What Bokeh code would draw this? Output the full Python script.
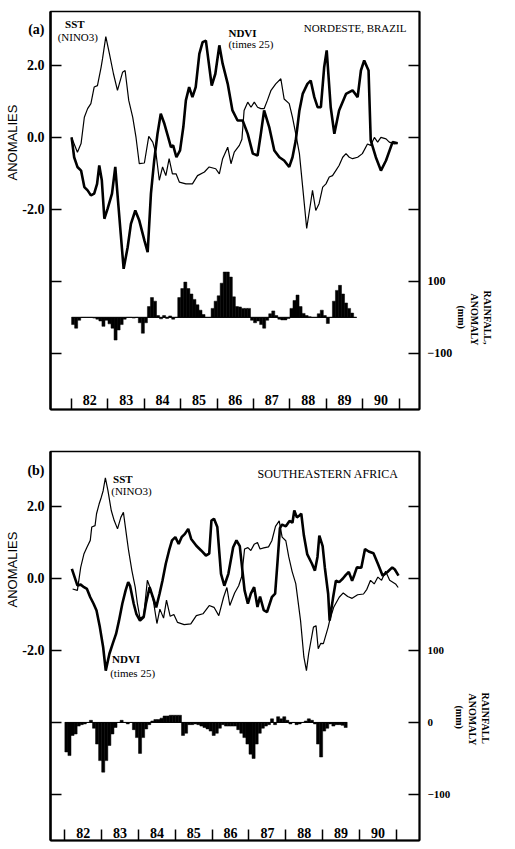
import numpy as np
from bokeh.plotting import figure
from bokeh.models import (Range1d, LinearAxis, FixedTicker, Label, LabelSet, ColumnDataSource,
                          PrintfTickFormatter, Title)
from bokeh.layouts import column
from bokeh.embed import file_html
from bokeh.resources import INLINE

# ---------------- data ----------------
year_ticks = [82, 83, 84, 85, 86, 87, 88, 89, 90, 91]
year_labels = ["82", "83", "84", "85", "86", "87", "88", "89", "90"]

# Panel (a) Nordeste, Brazil
a_sst_t = [82.00, 82.16, 82.26, 82.35, 82.44, 82.53, 82.62, 82.71, 82.81, 82.85, 82.94, 83.04, 83.15,
           83.26, 83.40, 83.47, 83.57, 83.68, 83.77, 83.86, 84.00, 84.12, 84.23, 84.32, 84.41, 84.50,
           84.59, 84.68, 84.77, 84.87, 84.96, 85.14, 85.32, 85.46, 85.65, 85.78, 85.96, 86.06, 86.15,
           86.29, 86.38, 86.47, 86.61, 86.68, 86.74, 86.84, 86.93, 87.02, 87.11, 87.20, 87.29, 87.38,
           87.48, 87.61, 87.75, 87.84, 87.98, 88.07, 88.16, 88.26, 88.35, 88.46, 88.55, 88.62, 88.71,
           88.80, 88.90, 88.99, 89.08, 89.17, 89.26, 89.35, 89.45, 89.54, 89.63, 89.72, 89.86, 89.99,
           90.13, 90.22, 90.32, 90.41, 90.50, 90.64, 90.73, 90.87, 90.96]
a_sst_v = [0.00, -0.41, -0.17, 0.56, 0.80, 0.94, 1.40, 1.44, 1.95, 2.19, 2.80, 2.32, 1.77,
           1.31, 1.81, 1.86, 1.03, 0.56, 0.00, -0.73, -0.71, 0.03, -0.13, -0.45, -1.19, -0.82,
           -1.06, -0.59, -1.01, -1.01, -1.24, -1.29, -1.29, -1.06, -0.96, -0.82, -0.87, -1.01, -0.59,
           -0.27, -0.73, -0.41, -0.22, -0.05, 0.75, 0.98, 0.84, 0.98, 0.84, 0.80, 0.80, 1.03,
           1.31, 1.49, 1.63, 1.07, 0.94, 0.56, 0.10, -0.45, -1.38, -2.53, -1.94, -1.47, -2.03,
           -1.84, -1.38, -1.29, -1.10, -1.06, -0.92, -0.78, -0.55, -0.45, -0.55, -0.59, -0.55, -0.45,
           -0.18, -0.22, 0.00, -0.13, 0.00, -0.04, -0.13, -0.18, -0.16]
a_ndvi_t = [82.00, 82.07, 82.16, 82.26, 82.35, 82.44, 82.53, 82.62, 82.70, 82.76, 82.83, 82.90, 82.99,
            83.11, 83.20, 83.29, 83.35, 83.43, 83.54, 83.63, 83.75, 83.86, 84.00, 84.09, 84.18, 84.27,
            84.36, 84.45, 84.55, 84.64, 84.73, 84.79, 84.88, 84.98, 85.07, 85.14, 85.23, 85.32, 85.41,
            85.51, 85.60, 85.69, 85.76, 85.85, 85.95, 86.06, 86.15, 86.29, 86.42, 86.56, 86.70, 86.84,
            86.98, 87.11, 87.20, 87.29, 87.43, 87.57, 87.71, 87.84, 87.98, 88.07, 88.16, 88.26, 88.35,
            88.48, 88.57, 88.67, 88.76, 88.85, 88.94, 89.01, 89.12, 89.22, 89.35, 89.54, 89.72, 89.86,
            89.95, 90.04, 90.16, 90.22, 90.36, 90.50, 90.64, 90.82, 90.96]
a_ndvi_v = [0.00, -0.55, -0.82, -0.92, -1.38, -1.47, -1.61, -1.56, -1.29, -0.78, -1.19, -2.26, -1.98,
            -1.56, -0.82, -1.94, -2.68, -3.65, -3.05, -2.40, -2.03, -2.31, -2.86, -3.19, -1.56, -0.64,
            0.10, 0.66, 0.38, 0.06, -0.27, -0.22, -0.55, -0.36, 0.29, 1.03, 1.40, 1.12, 1.40,
            2.32, 2.65, 2.69, 2.14, 1.44, 1.77, 2.56, 2.05, 1.49, 0.75, 0.47, 0.47, 0.10,
            -0.45, -0.50, 0.10, 0.75, 0.29, -0.36, -0.55, -0.64, -0.82, -0.55, -0.08, 0.75, 1.21,
            1.49, 1.58, 1.12, 0.84, 0.84, 1.95, 2.42, 0.84, 0.10, 0.75, 1.21, 1.31, 1.12,
            1.86, 2.14, 1.86, -0.08, -0.55, -0.92, -0.64, -0.13, -0.16]
# monthly rainfall anomaly (mm), Jan 1982 onward
a_rain = [-20, -30, -8, 0, 0, 0, 0, -2, -5, -10, -25, -8,
          -18, -30, -63, -35, -20, -5, 0, 0, -2, 0, -15, -44,
          -15, 30, 55, 45, 5, -4, 5, -3, 4, -5, 0, 55,
          80, 98, 80, 65, 50, 35, 20, 8, 0, 0, 25, 45,
          60, 95, 126, 126, 112, 57, 30, 29, 25, 25, 25, -8,
          -15, -10, -20, -30, -8, 10, 18, 5, -5, -7, -7, -3,
          25, 47, 62, 30, 11, 5, 2, 0, 0, 10, 20, 5,
          -17, 0, 45, 75, 89, 65, 40, 25, 12, 0]

# Panel (b) Southeastern Africa
b_sst_t = [82.21, 82.34, 82.43, 82.52, 82.60, 82.69, 82.73, 82.82, 82.86, 82.93, 82.99, 83.04, 83.10,
           83.17, 83.26, 83.34, 83.43, 83.52, 83.59, 83.68, 83.73, 83.82, 83.91, 83.97, 84.04, 84.14,
           84.24, 84.33, 84.40, 84.50, 84.58, 84.68, 84.76, 84.86, 84.96, 85.06, 85.24, 85.42, 85.57,
           85.75, 85.92, 86.05, 86.18, 86.31, 86.40, 86.48, 86.61, 86.72, 86.80, 86.88, 86.97, 87.05,
           87.14, 87.23, 87.30, 87.40, 87.53, 87.62, 87.72, 87.82, 87.90, 88.00, 88.08, 88.17, 88.27,
           88.40, 88.49, 88.56, 88.62, 88.75, 88.82, 88.88, 88.95, 89.02, 89.15, 89.19, 89.30, 89.45,
           89.56, 89.68, 89.80, 89.95, 90.11, 90.20, 90.30, 90.40, 90.50, 90.60, 90.71, 90.82, 90.98,
           91.05]
b_sst_v = [-0.29, -0.33, 0.31, 0.69, 0.87, 1.06, 1.43, 1.47, 1.80, 2.07, 2.26, 2.44, 2.80,
           2.44, 1.89, 1.61, 1.38, 1.70, 1.84, 1.15, 0.78, 0.22, -0.24, -0.70, -1.10, -1.05,
           -0.05, -0.30, -0.60, -1.25, -0.85, -1.10, -0.60, -1.05, -1.00, -1.22, -1.28, -1.26, -1.03,
           -0.98, -0.75, -0.80, -1.03, -0.52, -0.25, -0.75, -0.40, -0.20, 0.05, 0.82, 0.86, 0.78,
           0.95, 1.00, 0.82, 0.85, 0.88, 1.05, 1.45, 1.60, 1.15, 1.05, 0.60, 0.20, -0.14,
           -1.17, -2.18, -2.56, -2.09, -1.35, -1.31, -1.95, -1.80, -1.81, -1.35, -1.17, -0.80, -0.52,
           -0.40, -0.50, -0.55, -0.45, -0.43, -0.30, -0.05, -0.15, 0.04, -0.05, 0.20, -0.05, -0.15,
           -0.25]
b_ndvi_t = [82.19, 82.34, 82.43, 82.52, 82.60, 82.69, 82.78, 82.86, 82.95, 83.04, 83.11, 83.21, 83.30,
            83.39, 83.47, 83.56, 83.65, 83.72, 83.77, 83.87, 83.94, 84.04, 84.14, 84.20, 84.30, 84.39,
            84.48, 84.57, 84.65, 84.74, 84.83, 84.91, 85.00, 85.09, 85.17, 85.26, 85.35, 85.43, 85.57,
            85.70, 85.83, 85.92, 85.98, 86.05, 86.14, 86.24, 86.33, 86.44, 86.57, 86.66, 86.75, 86.88,
            86.97, 87.05, 87.14, 87.23, 87.30, 87.40, 87.49, 87.62, 87.71, 87.77, 87.84, 87.90, 88.00,
            88.10, 88.18, 88.23, 88.30, 88.37, 88.42, 88.49, 88.58, 88.71, 88.79, 88.86, 88.91, 89.00,
            89.06, 89.15, 89.19, 89.28, 89.36, 89.45, 89.55, 89.63, 89.71, 89.80, 89.86, 89.93, 90.05,
            90.15, 90.25, 90.38, 90.50, 90.63, 90.76, 90.89, 90.96, 91.06]
b_ndvi_v = [0.27, -0.19, -0.17, -0.24, -0.29, -0.52, -0.70, -0.89, -1.35, -1.91, -2.56, -2.09, -1.81,
            -1.54, -1.17, -0.70, -0.33, -0.10, -0.20, -0.70, -0.98, -1.17, -1.07, -0.70, -0.24, -0.52,
            -0.80, -0.43, -0.06, 0.41, 0.78, 1.06, 1.15, 0.96, 1.15, 1.24, 1.38, 1.10, 0.91,
            0.78, 0.64, 0.69, 1.61, 1.66, 1.43, 0.13, -0.20, 0.13, 0.87, 1.06, 0.90, -0.33,
            -0.70, -0.42, -0.24, -0.79, -0.50, -0.88, -0.93, -0.52, -0.42, 0.40, 1.40, 1.50, 1.45,
            1.60, 1.55, 1.89, 1.70, 1.75, 1.80, 1.20, 0.68, 0.41, 0.22, 0.60, 1.19, 0.90,
            0.30, -0.43, -1.17, -0.55, -0.06, -0.10, 0.00, 0.10, 0.18, -0.06, 0.10, 0.31, 0.30,
            0.82, 0.75, 0.70, 0.41, 0.08, 0.18, 0.31, 0.25, 0.08]
b_rain = [-41, -46, -18, -16, -5, -3, -2, 0, 3, -8, -30, -53,
          -69, -53, -32, -16, -7, 0, 3, 0, -2, 0, -10, -21,
          -43, -21, -9, -3, 2, 4, 4, 6, 9, 9, 10, 10,
          10, 10, -18, -15, -3, -3, -2, -3, -5, -7, -9, -12,
          -18, -15, -8, -3, -5, -5, -5, -5, -10, -15, -21, -30,
          -44, -50, -30, -15, -8, -5, -3, 5, -3, 8, 5, 8,
          3, -2, 0, -3, -2, 0, 2, 5, 3, -2, -30, -48,
          -12, -8, -2, -5, -3, -3, -4, -7]
rain_start = 82.0

SERIF = "Liberation Serif"
SANS = "Liberation Sans"


def style_axis(ax, lw, standoff=6, size="13px"):
    ax.axis_line_color = "black"
    ax.axis_line_width = lw
    ax.major_tick_in = 11
    ax.major_tick_out = 0
    ax.minor_tick_in = 11
    ax.minor_tick_out = 0
    ax.major_tick_line_color = "black"
    ax.minor_tick_line_color = "black"
    ax.major_tick_line_width = 1.5
    ax.minor_tick_line_width = 1.5
    ax.major_label_text_font = SERIF
    ax.major_label_text_font_style = "bold"
    ax.major_label_text_font_size = size
    ax.major_label_text_color = "black"
    ax.major_label_standoff = standoff


def side_title(p, text, side, offset, size="10px", font=SERIF, style="bold"):
    p.add_layout(Title(text=text, align="left", offset=offset, standoff=0,
                       text_font=font, text_font_size=size, text_font_style=style,
                       text_color="black"), side)


def make_panel(width, height, borders, xr, yr, rain_zero, rain_per_unit,
               sst_t, sst_v, ndvi_t, ndvi_v, rain, right_major, right_minor, year_y,
               panel_tag, right_size):
    left, right, top, bottom = borders
    p = figure(width=width, height=height, x_range=Range1d(*xr), y_range=Range1d(*yr),
               output_backend="svg", toolbar_location=None,
               min_border_left=left, min_border_right=right,
               min_border_top=top, min_border_bottom=bottom)
    p.extra_y_ranges = {"rain": Range1d((yr[0] - rain_zero) * rain_per_unit,
                                        (yr[1] - rain_zero) * rain_per_unit)}
    p.xgrid.visible = False
    p.ygrid.visible = False
    p.outline_line_color = "black"
    p.outline_line_width = 1.5
    p.background_fill_color = "white"
    p.border_fill_color = "white"

    # bottom axis: year boundaries as unlabeled inward ticks
    p.xaxis.ticker = FixedTicker(ticks=[], minor_ticks=year_ticks)
    style_axis(p.xaxis[0], 2, 0)

    # left axis: visible ticks are minor ticks; major ticks carry the labels
    # (the panel letter sits at the top of the left margin as one more label)
    p.yaxis.ticker = FixedTicker(ticks=[3, 2, 0, -2], minor_ticks=[2, 0, -2, -4, -6])
    p.yaxis.formatter = PrintfTickFormatter(format="%.1f")
    p.yaxis.major_label_overrides = {3: panel_tag}
    style_axis(p.yaxis[0], 2.5, 6, "14px")
    p.yaxis.major_tick_line_color = None

    rax = LinearAxis(y_range_name="rain",
                     ticker=FixedTicker(ticks=right_major, minor_ticks=right_minor))
    style_axis(rax, 2, 8, right_size)
    p.add_layout(rax, "right")

    # rainfall bars
    mx = rain_start + (np.arange(len(rain)) + 0.5) / 12.0
    src = ColumnDataSource(dict(x=mx, top=np.array(rain, dtype=float)))
    p.vbar(x="x", top="top", bottom=0, width=1 / 12.0, source=src, y_range_name="rain",
           fill_color="black", line_color="black", line_width=0.5)
    p.line(x=[mx[0] - 1 / 24.0, mx[-1] + 1 / 24.0], y=[0, 0], y_range_name="rain",
           line_color="black", line_width=1)

    # curves
    p.line(sst_t, sst_v, line_color="black", line_width=1.2)
    p.line(ndvi_t, ndvi_v, line_color="black", line_width=2.6)

    # year labels inside the frame
    ysrc = ColumnDataSource(dict(x=[int(s) + 0.5 for s in year_labels], text=year_labels))
    p.add_layout(LabelSet(x="x", y=year_y, text="text", source=ysrc, text_align="center",
                          text_baseline="middle", text_font=SERIF, text_font_style="bold",
                          text_font_size="14px", text_color="black"))
    return p


def lab(p, x, y, text, size="11px", style="normal", align="left"):
    p.add_layout(Label(x=x, y=y, text=text, text_font=SERIF, text_font_size=size,
                       text_font_style=style, text_align=align, text_baseline="top",
                       text_color="black"))


# ---------------- panel (a) ----------------
pa = make_panel(499, 418, (50, 80, 11, 9), (81.42, 91.56), (-7.56, 3.5), -5.0, 100.0,
                a_sst_t, a_sst_v, a_ndvi_t, a_ndvi_v, a_rain,
                [100, -100], [700, 500, 300], -7.3, "(a)", "12px")
lab(pa, 82.09, 3.33, "SST", style="bold", align="center")
lab(pa, 82.17, 2.96, "(NINO3)", align="center")
lab(pa, 86.31, 3.08, "NDVI", style="bold")
lab(pa, 86.31, 2.75, "(times 25)")
lab(pa, 91.2, 3.22, "NORDESTE, BRAZIL", align="right")
side_title(pa, "ANOMALIES", "left", 229, size="13px", font=SANS, style="normal")
side_title(pa, "(mm)", "right", 294)
side_title(pa, "ANOMALY", "right", 282)
side_title(pa, "RAINFALL,", "right", 279)

# ---------------- panel (b) ----------------
pb = make_panel(499, 425, (49, 67, 33, 3), (81.61, 91.63), (-7.28, 3.53), -4.0, 50.0,
                b_sst_t, b_sst_v, b_ndvi_t, b_ndvi_v, b_rain,
                [100, 0, -100], [300, 200], -7.06, "(b)", "11px")
lab(pb, 83.31, 2.94, "SST", style="bold")
lab(pb, 83.26, 2.6, "(NINO3)")
lab(pb, 83.28, -2.06, "NDVI", style="bold")
lab(pb, 83.23, -2.47, "(times 25)")
lab(pb, 91.06, 3.11, "SOUTHEASTERN AFRICA", size="12px", align="right")
side_title(pb, "ANOMALIES", "left", 233, size="13px", font=SANS, style="normal")
side_title(pb, "(mm)", "right", 254)
side_title(pb, "ANOMALY", "right", 242)
side_title(pb, "RAINFALL", "right", 241)

layout = column(pa, pb, spacing=0)
open("out.html", "w").write(file_html(layout, INLINE))
